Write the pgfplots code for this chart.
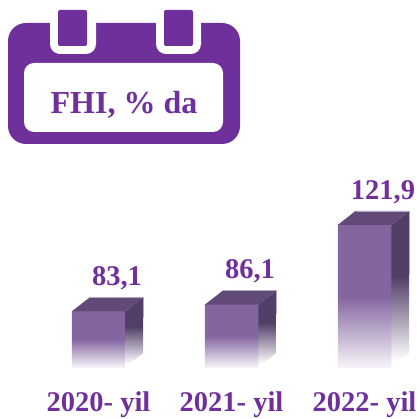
\documentclass[border=0pt]{standalone}
\usepackage{fontspec}
\setmainfont{Liberation Serif}
\usepackage{pgfplots}
\pgfplotsset{compat=1.18}

\definecolor{cal}{HTML}{70309B}
\definecolor{front}{HTML}{8365A0}
\definecolor{side}{HTML}{523F68}
\definecolor{topf}{HTML}{614A78}
\definecolor{pale}{HTML}{F6F3F8}
\definecolor{edge}{HTML}{B5A8C4}

% bar fades out over its lower half
\pgfdeclareverticalshading{frontfade}{100bp}{color(0bp)=(pale); color(25bp)=(pale); color(50bp)=(front); color(100bp)=(front)}
\pgfdeclareverticalshading{sidefade}{100bp}{color(0bp)=(white); color(27bp)=(white); color(54bp)=(side); color(100bp)=(side)}

\begin{document}
\begin{tikzpicture}
\path[use as bounding box] (0,0) rectangle (420pt,418pt);
\begin{axis}[
    scale only axis, width=420pt, height=418pt,
    xmin=-0.7406, xmax=2.417, ymin=35.29, ymax=222.73,
    clip=false, no markers,
    axis line style={draw=none},
    major tick length=0pt,
    ytick=\empty,
    xtick={0,1,2},
    xticklabels={2020- yil,2021- yil,2022- yil},
    x tick label style={font=\fontsize{28.5}{30}\selectfont\bfseries, text=cal, anchor=center, yshift=13.5pt},
]
% front faces
\addplot[draw=none, shade, shading=frontfade] coordinates {(-0.201,58.16) (0.201,58.16) (0.201,83.1) (-0.201,83.1)} -- cycle;
\addplot[draw=none, shade, shading=frontfade] coordinates {(0.799,58.16) (1.201,58.16) (1.201,86.1) (0.799,86.1)} -- cycle;
\addplot[draw=none, shade, shading=frontfade] coordinates {(1.799,58.16) (2.201,58.16) (2.201,121.9) (1.799,121.9)} -- cycle;
% right faces
\addplot[draw=none, shade, shading=sidefade] coordinates {(0.201,58.16) (0.336,64.44) (0.336,89.38) (0.201,83.1)} -- cycle;
\addplot[draw=none, shade, shading=sidefade] coordinates {(1.201,58.16) (1.336,64.44) (1.336,92.38) (1.201,86.1)} -- cycle;
\addplot[draw=none, shade, shading=sidefade] coordinates {(2.201,58.16) (2.336,64.44) (2.336,128.18) (2.201,121.9)} -- cycle;
% top faces
\addplot[draw=none, fill=topf] coordinates {(-0.201,83.1) (0.201,83.1) (0.336,89.38) (-0.066,89.38)} -- cycle;
\addplot[draw=none, fill=topf] coordinates {(0.799,86.1) (1.201,86.1) (1.336,92.38) (0.934,92.38)} -- cycle;
\addplot[draw=none, fill=topf] coordinates {(1.799,121.9) (2.201,121.9) (2.336,128.18) (1.934,128.18)} -- cycle;
% pale back edges of the top faces
\addplot[edge, line width=0.7pt] coordinates {(-0.066,89.38) (0.336,89.38) (0.336,80)};
\addplot[edge, line width=0.7pt] coordinates {(0.934,92.38) (1.336,92.38) (1.336,82)};
\addplot[edge, line width=0.7pt] coordinates {(1.934,128.18) (2.336,128.18) (2.336,100)};
% value labels
\addplot[draw=none, nodes near coords={\pgfmathprintnumber[fixed,fixed zerofill,precision=1,use comma,assume math mode=true]{\pgfplotspointmeta}},
    every node near coord/.append style={font=\fontsize{28.5}{30}\selectfont\bfseries, text=cal, anchor=center, xshift=18.5pt, yshift=33pt}]
    coordinates {(0,83.1) (1,86.1) (2,121.9)};
\end{axis}
% calendar header, in pixels from the top left
\begin{scope}[x=1pt,y=-1pt,yshift=418pt]
\fill[cal, rounded corners=18pt] (8,23) rectangle (240,144);
\fill[white, rounded corners=10pt] (50,15) rectangle (96,54);
\fill[white, rounded corners=10pt] (156,15) rectangle (201,54);
\fill[white] (50,10) rectangle (96,30);
\fill[white] (156,10) rectangle (201,30);
\fill[cal, rounded corners=2pt] (58,10) rectangle (87,46);
\fill[cal, rounded corners=2pt] (164,10) rectangle (193,46);
\fill[white, rounded corners=10pt] (24,63) rectangle (223,132);
\node[text=cal, font=\fontsize{32}{34}\selectfont\bfseries, anchor=center] at (124,105) {FHI, \% da};
\end{scope}
\end{tikzpicture}
\end{document}
